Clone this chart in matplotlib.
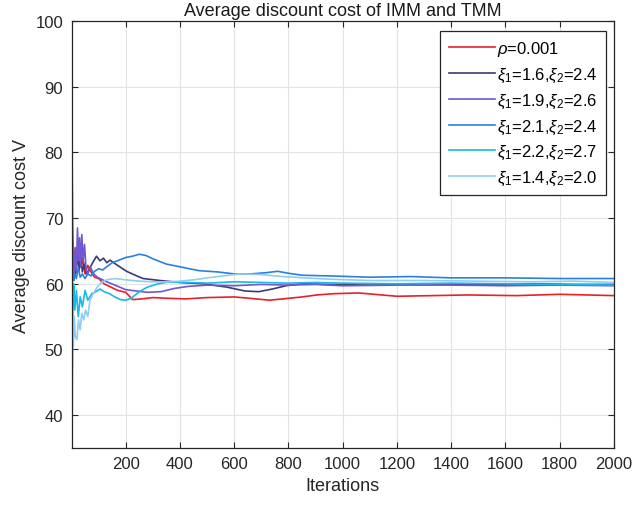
import matplotlib
matplotlib.use("Agg")
import matplotlib.pyplot as plt

# values (iteration, average discount cost)
it_red = [2, 5, 10, 15, 22, 28, 35, 42, 50, 60, 72, 85, 100, 120, 140, 170, 200, 225, 260,
          300, 350, 420, 500, 600, 680, 730, 780, 850, 905, 970, 1060, 1200, 1330, 1460,
          1640, 1800, 1900, 2000]
v_red = [62, 66.5, 63, 65.5, 63, 66, 62.5, 64, 61.5, 62.8, 61.8, 61, 60.8, 60, 59.6, 59,
         58.7, 57.6, 57.7, 57.9, 57.8, 57.7, 57.9, 58.0, 57.7, 57.5, 57.7, 58.0, 58.3, 58.5,
         58.6, 58.1, 58.2, 58.3, 58.2, 58.4, 58.3, 58.2]

it_navy = [2, 5, 8, 12, 16, 22, 28, 34, 40, 47, 55, 65, 78, 92, 105, 118, 130, 142, 170,
           203, 235, 264, 326, 400, 485, 572, 640, 690, 740, 790, 850, 950, 1100, 1300,
           1500, 1700, 1850, 2000]
v_navy = [62, 63.5, 60.5, 64, 61.5, 65, 62, 64.5, 61.8, 63, 61.5, 62.2, 63.2, 64.2, 63.5,
          63.9, 63.2, 63.6, 62.8, 61.9, 61.3, 60.8, 60.5, 60.2, 60.0, 59.5, 58.9, 58.8,
          59.2, 59.7, 60.0, 59.9, 59.8, 60.0, 59.9, 60.0, 59.9, 59.9]

it_purple = [2, 4, 7, 10, 14, 18, 22, 26, 30, 34, 38, 43, 48, 54, 60, 70, 82, 95, 110, 130,
             160, 200, 240, 280, 330, 380, 430, 500, 600, 700, 800, 900, 1000, 1200, 1400,
             1600, 1800, 2000]
v_purple = [80, 70, 63, 61, 65.5, 62, 68.5, 63.5, 67, 62.5, 67.5, 63.5, 66, 62, 61.5, 62.5,
            61.5, 61, 60.7, 60.3, 59.8, 59.1, 58.9, 58.7, 58.8, 59.3, 59.6, 59.8, 59.7, 59.9,
            59.8, 59.9, 59.7, 59.8, 59.8, 59.7, 59.8, 59.7]

it_blue = [2, 5, 8, 12, 18, 25, 32, 40, 50, 60, 72, 85, 100, 115, 130, 150, 175, 200, 225,
           250, 275, 300, 350, 410, 470, 540, 600, 660, 720, 760, 800, 850, 950, 1100, 1250,
           1400, 1600, 1800, 2000]
v_blue = [60, 62, 60.5, 61.5, 60.8, 62.5, 61, 61.5, 60.8, 61.5, 61.2, 61.9, 62.3, 62.1,
          62.6, 63.2, 63.6, 64.0, 64.2, 64.5, 64.3, 63.8, 63.0, 62.5, 62.0, 61.8, 61.5, 61.5,
          61.7, 61.9, 61.6, 61.3, 61.2, 61.0, 61.1, 60.9, 60.9, 60.8, 60.8]

it_cyan = [2, 3, 5, 8, 12, 18, 25, 32, 40, 50, 60, 75, 90, 105, 120, 140, 160, 180, 200,
           220, 250, 280, 320, 360, 420, 500, 600, 700, 800, 900, 1000, 1200, 1400, 1600,
           1800, 2000]
v_cyan = [35, 45, 57, 60, 56, 59, 55, 58, 56.5, 59, 57.5, 58.5, 58.8, 59.2, 58.8, 58.5,
          58.0, 57.6, 57.5, 57.8, 58.8, 59.5, 60.0, 60.3, 60.2, 60.1, 60.3, 60.2, 60.1,
          60.2, 60.1, 60.0, 60.1, 60.0, 59.9, 59.8]

it_light = [2, 4, 7, 10, 14, 20, 26, 32, 38, 45, 52, 60, 68, 80, 95, 110, 130, 160, 200,
            250, 300, 350, 400, 450, 500, 560, 620, 700, 780, 860, 950, 1100, 1300, 1500,
            1700, 1850, 2000]
v_light = [45, 52, 50.5, 55, 52, 51.5, 54.5, 53, 55.5, 54.5, 56, 55, 57.5, 58.5, 59.5, 60.2,
           60.6, 60.8, 60.6, 60.4, 60.3, 60.3, 60.4, 60.6, 60.9, 61.2, 61.5, 61.4, 61.1,
           60.9, 60.7, 60.5, 60.5, 60.4, 60.3, 60.4, 60.2]

labels = [r'$\rho$=0.001', r'$\xi_1$=1.6,$\xi_2$=2.4', r'$\xi_1$=1.9,$\xi_2$=2.6',
          r'$\xi_1$=2.1,$\xi_2$=2.4', r'$\xi_1$=2.2,$\xi_2$=2.7', r'$\xi_1$=1.4,$\xi_2$=2.0']
colors = ['#e8202a', '#3c3a70', '#7058d0', '#2a80e0', '#18b8e8', '#90cdf4']
xticks = [200, 400, 600, 800, 1000, 1200, 1400, 1600, 1800, 2000]
yticks = [40, 50, 60, 70, 80, 90, 100]

plt.rcParams['font.family'] = ['Liberation Sans', 'DejaVu Sans']
plt.rcParams['mathtext.fontset'] = 'custom'
plt.rcParams['mathtext.rm'] = 'Liberation Sans'
plt.rcParams['mathtext.it'] = 'Liberation Sans:italic'

fig = plt.figure(figsize=(6.35, 5.06), dpi=100)
ax = fig.add_axes([0.1126, 0.1126, 0.8543, 0.8439])

series = [(it_red, v_red), (it_navy, v_navy), (it_purple, v_purple),
          (it_blue, v_blue), (it_cyan, v_cyan), (it_light, v_light)]
for (xs, ys), c, lab in zip(series, colors, labels):
    ax.plot(xs, ys, color=c, lw=1.2, label=lab)

ax.set_xlim(0, 2000)
ax.set_ylim(35, 100)
ax.set_xticks(xticks)
ax.set_yticks(yticks)
ax.grid(True, color='#e3e3e3', lw=0.8)
ax.set_axisbelow(True)
ax.tick_params(direction='in', length=4, top=True, right=True, labelsize=12,
               colors='#262626', pad=6)
for s in ax.spines.values():
    s.set_color('#262626')
    s.set_linewidth(0.9)

ax.set_title('Average discount cost of IMM and TMM', fontsize=13, color='#1a1a1a', pad=4)
ax.set_xlabel('Iterations', fontsize=13, color='#262626')
ax.set_ylabel('Average discount cost V', fontsize=13, color='#262626')

leg = ax.legend(loc='upper right', bbox_to_anchor=(0.985, 0.977), borderaxespad=0,
                fontsize=12, handlelength=2.75, labelspacing=0.45, fancybox=False,
                framealpha=1, edgecolor='#262626', borderpad=0.5, handletextpad=0.15)
leg.get_frame().set_linewidth(0.9)

fig.savefig('out.png', dpi=100)
